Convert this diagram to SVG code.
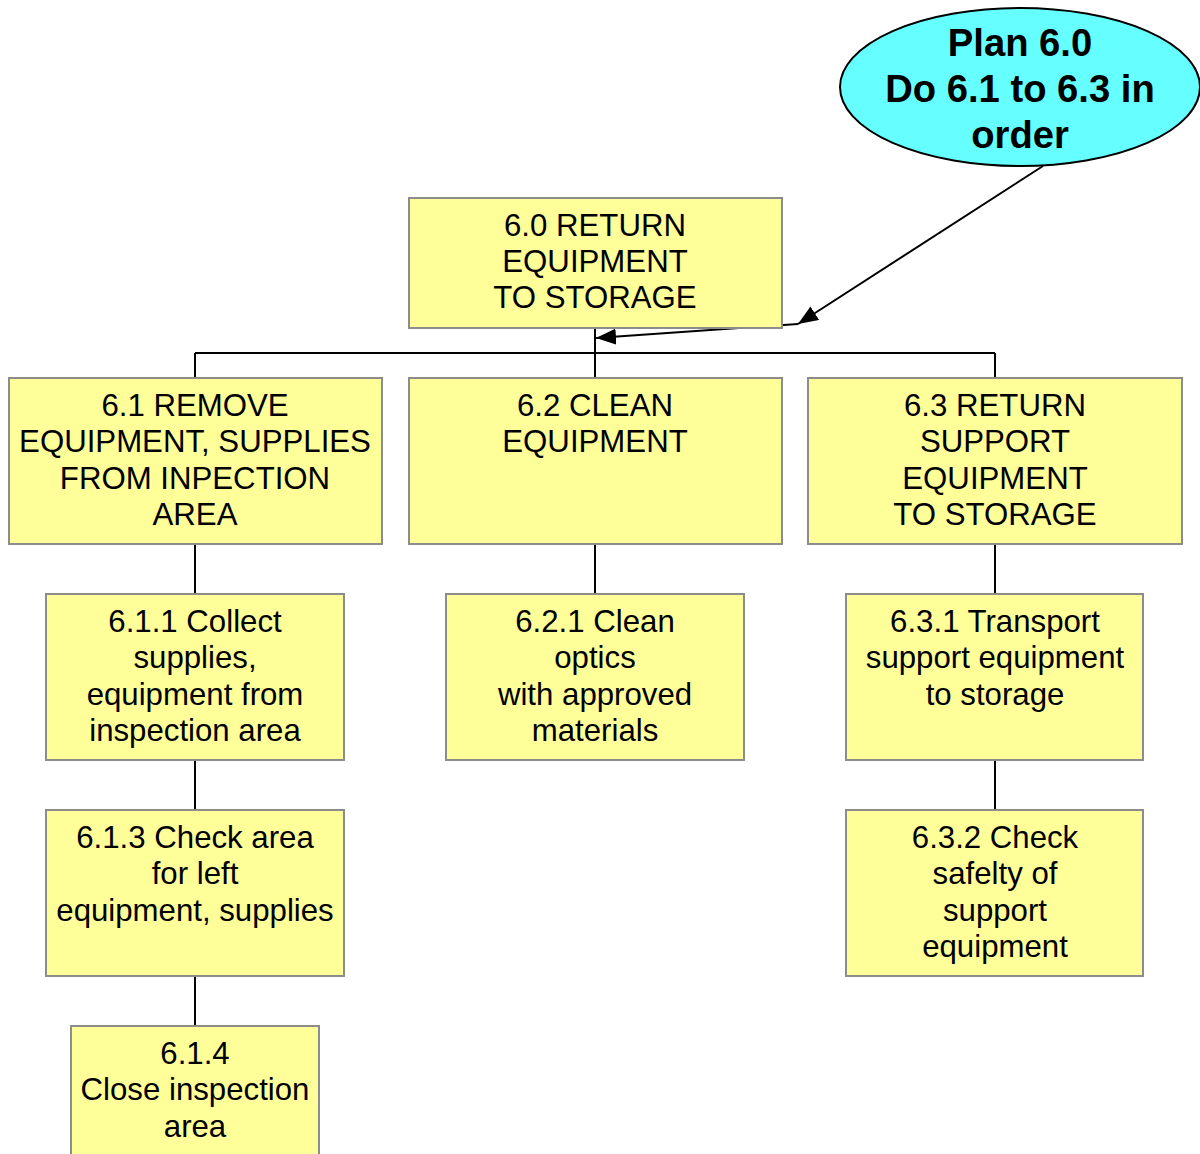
<svg xmlns="http://www.w3.org/2000/svg" width="1200" height="1154" viewBox="0 0 1200 1154">
  <style>
    .box { fill: #FFFF99; stroke: #8C8C8C; stroke-width: 2; }
    .lbl { font-family: "Liberation Sans", Arial, sans-serif; font-size: 31.2px; fill: #000; text-anchor: middle; }
    .plan { fill: #66FFFF; stroke: #000; stroke-width: 2; }
    .plantxt { font-family: "Liberation Sans", Arial, sans-serif; font-size: 38.2px; font-weight: bold; fill: #000; text-anchor: middle; }
    .tree { fill: none; stroke: #000; stroke-width: 2; }
    .ptr { fill: none; stroke: #000; stroke-width: 2; marker-end: url(#tri); }
  </style>
  <defs>
    <marker id="tri" markerUnits="userSpaceOnUse" markerWidth="20" markerHeight="16" viewBox="0 0 20 16" refX="20" refY="8" orient="auto">
      <path d="M0,0 L20,8 L0,16 z" fill="#000"/>
    </marker>
  </defs>

  <!-- hierarchy connectors -->
  <g id="connectors">
    <path class="tree" d="M595,328 V378 M195,353 H995 M195,353 V378 M995,353 V378"/>
    <path class="tree" d="M195,544 V594 M195,760 V810 M195,976 V1026"/>
    <path class="tree" d="M595,544 V594"/>
    <path class="tree" d="M995,544 V594 M995,760 V810"/>
    <path class="ptr" d="M1043,166 L798,324"/>
    <path class="ptr" d="M798,324 L596,338"/>
  </g>

  <g id="plan60">
    <ellipse class="plan" cx="1020" cy="87" rx="180" ry="79"/>
    <text class="plantxt"><tspan x="1020" y="56">Plan 6.0</tspan><tspan x="1020" y="102">Do 6.1 to 6.3 in</tspan><tspan x="1020" y="148">order</tspan></text>
  </g>

  <g id="n60">
    <rect class="box" x="409" y="198" width="373" height="130"/>
    <text class="lbl"><tspan x="595" y="236">6.0 RETURN</tspan><tspan x="595" y="272">EQUIPMENT</tspan><tspan x="595" y="308">TO STORAGE</tspan></text>
  </g>

  <g id="n61">
    <rect class="box" x="9" y="378" width="373" height="166"/>
    <text class="lbl"><tspan x="195" y="416">6.1 REMOVE</tspan><tspan x="195" y="452">EQUIPMENT, SUPPLIES</tspan><tspan x="195" y="489">FROM INPECTION</tspan><tspan x="195" y="525">AREA</tspan></text>
  </g>

  <g id="n62">
    <rect class="box" x="409" y="378" width="373" height="166"/>
    <text class="lbl"><tspan x="595" y="416">6.2 CLEAN</tspan><tspan x="595" y="452">EQUIPMENT</tspan></text>
  </g>

  <g id="n63">
    <rect class="box" x="808" y="378" width="374" height="166"/>
    <text class="lbl"><tspan x="995" y="416">6.3 RETURN</tspan><tspan x="995" y="452">SUPPORT</tspan><tspan x="995" y="489">EQUIPMENT</tspan><tspan x="995" y="525">TO STORAGE</tspan></text>
  </g>

  <g id="n611">
    <rect class="box" x="46" y="594" width="298" height="166"/>
    <text class="lbl"><tspan x="195" y="632">6.1.1 Collect</tspan><tspan x="195" y="668">supplies,</tspan><tspan x="195" y="705">equipment from</tspan><tspan x="195" y="741">inspection area</tspan></text>
  </g>

  <g id="n621">
    <rect class="box" x="446" y="594" width="298" height="166"/>
    <text class="lbl"><tspan x="595" y="632">6.2.1 Clean</tspan><tspan x="595" y="668">optics</tspan><tspan x="595" y="705">with approved</tspan><tspan x="595" y="741">materials</tspan></text>
  </g>

  <g id="n631">
    <rect class="box" x="846" y="594" width="297" height="166"/>
    <text class="lbl"><tspan x="995" y="632">6.3.1 Transport</tspan><tspan x="995" y="668">support equipment</tspan><tspan x="995" y="705">to storage</tspan></text>
  </g>

  <g id="n613">
    <rect class="box" x="46" y="810" width="298" height="166"/>
    <text class="lbl"><tspan x="195" y="848">6.1.3 Check area</tspan><tspan x="195" y="884">for left</tspan><tspan x="195" y="921">equipment, supplies</tspan></text>
  </g>

  <g id="n632">
    <rect class="box" x="846" y="810" width="297" height="166"/>
    <text class="lbl"><tspan x="995" y="848">6.3.2 Check</tspan><tspan x="995" y="884">safelty of</tspan><tspan x="995" y="921">support</tspan><tspan x="995" y="957">equipment</tspan></text>
  </g>

  <g id="n614">
    <rect class="box" x="71" y="1026" width="248" height="166"/>
    <text class="lbl"><tspan x="195" y="1064">6.1.4</tspan><tspan x="195" y="1100">Close inspection</tspan><tspan x="195" y="1137">area</tspan></text>
  </g>
</svg>
